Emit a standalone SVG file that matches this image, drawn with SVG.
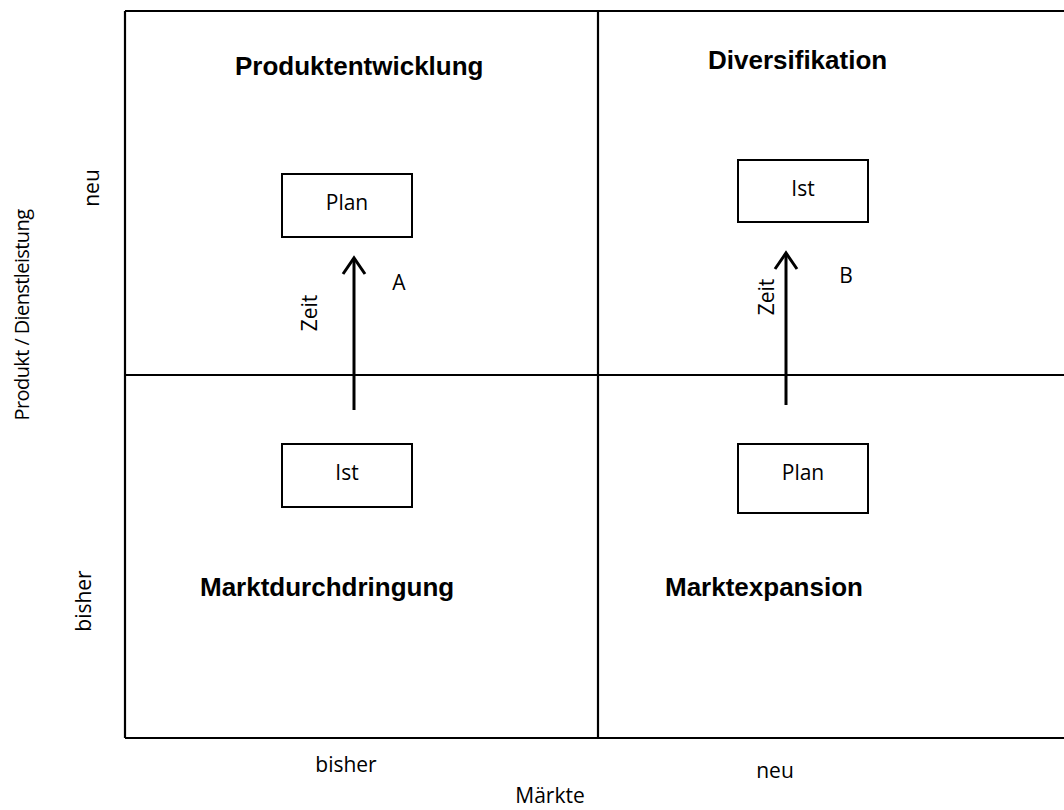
<svg xmlns="http://www.w3.org/2000/svg" width="1064" height="810" viewBox="0 0 1064 810">
<style>
.frame{fill:none;stroke:#000;stroke-width:2.2}
.box{fill:#fff;stroke:#000;stroke-width:2}
.title{font-family:"Liberation Sans",Arial,sans-serif;font-weight:bold;font-size:26px;fill:#000}
.lbl{font-family:"Open Sans","Noto Sans",sans-serif;font-size:21px;fill:#000}
.axis{font-size:20px;letter-spacing:-0.6px}
.arrow{fill:none;stroke:#000;stroke-width:3}
</style>
<defs>
<marker id="chev" markerUnits="userSpaceOnUse" viewBox="-22 -15 26 30" markerWidth="26" markerHeight="30" refX="0" refY="0" orient="auto">
<path d="M-16,-11 L0,0 L-16,11" fill="none" stroke="#000" stroke-width="3" stroke-linejoin="miter"/>
</marker>
</defs>
<rect width="1064" height="810" fill="#fff"/>
<g id="grid">
<path class="frame" d="M125,11 H1070 M125,738 H1070 M125,11 V738 M598,11 V738 M125,375 H1070"/>
</g>
<g id="titles">
<text class="title" x="235" y="75">Produktentwicklung</text>
<text class="title" x="708" y="69">Diversifikation</text>
<text class="title" x="200" y="596">Marktdurchdringung</text>
<text class="title" x="665" y="596">Marktexpansion</text>
</g>
<g id="node-plan-a">
<rect class="box" x="282" y="174" width="130" height="63"/>
<text class="lbl" x="347" y="210" text-anchor="middle">Plan</text>
</g>
<g id="node-ist-a">
<rect class="box" x="282" y="444" width="130" height="63"/>
<text class="lbl" x="347" y="480" text-anchor="middle">Ist</text>
</g>
<g id="node-ist-b">
<rect class="box" x="738" y="160" width="130" height="62"/>
<text class="lbl" x="803" y="196" text-anchor="middle">Ist</text>
</g>
<g id="node-plan-b">
<rect class="box" x="738" y="444" width="130" height="69"/>
<text class="lbl" x="803" y="480" text-anchor="middle">Plan</text>
</g>
<g id="connectors">
<path class="arrow" d="M354,410 V258" marker-end="url(#chev)"/>
<path class="arrow" d="M786,405 V253" marker-end="url(#chev)"/>
<text class="lbl" transform="translate(317,313) rotate(-90)" text-anchor="middle">Zeit</text>
<text class="lbl" transform="translate(774,297) rotate(-90)" text-anchor="middle">Zeit</text>
<text class="lbl" x="399" y="290" text-anchor="middle">A</text>
<text class="lbl" x="846" y="283" text-anchor="middle">B</text>
</g>
<g id="axes">
<text class="lbl axis" transform="translate(29,315) rotate(-90)" text-anchor="middle">Produkt / Dienstleistung</text>
<text class="lbl" transform="translate(99,188) rotate(-90)" text-anchor="middle">neu</text>
<text class="lbl" transform="translate(91,601) rotate(-90)" text-anchor="middle">bisher</text>
<text class="lbl" x="346" y="772" text-anchor="middle">bisher</text>
<text class="lbl" x="550" y="803" text-anchor="middle">Märkte</text>
<text class="lbl" x="775" y="778" text-anchor="middle">neu</text>
</g>
</svg>
